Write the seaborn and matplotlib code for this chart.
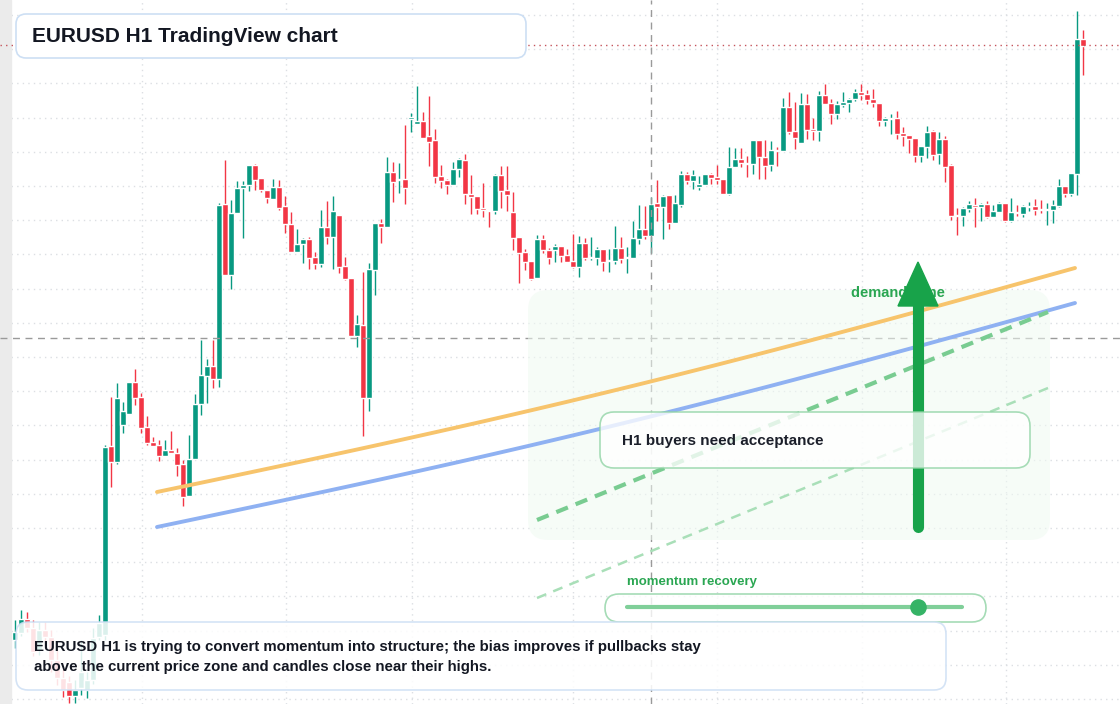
import numpy as np
import pandas as pd
import matplotlib
matplotlib.use('Agg')
import matplotlib.pyplot as plt
import seaborn as sns
from matplotlib.patches import FancyBboxPatch, Polygon

sns.set_style("white")
plt.rcParams['font.family'] = ['Liberation Sans', 'DejaVu Sans']

opens = [640, 633, 619, 628, 650, 630, 637, 660, 678, 682,
         696, 688, 690, 680, 637, 635, 446, 462, 425, 414,
         382, 397, 427, 442, 445, 456, 450, 453, 464, 496,
         459, 404, 376, 366, 379, 204, 275, 213, 188, 185,
         165, 178, 190, 199, 187, 206, 224, 252, 244, 239,
         257, 264, 227, 237, 215, 266, 278, 336, 325, 398,
         270, 223, 227, 172, 180, 179, 119, 124, 121, 136,
         140, 176, 180, 185, 169, 160, 194, 196, 208, 210,
         211, 175, 190, 212, 237, 252, 261, 278, 239, 250,
         250, 246, 255, 261, 267, 243, 258, 258, 249, 261,
         261, 248, 258, 258, 239, 229, 236, 203, 207, 195,
         223, 205, 174, 181, 187, 185, 174, 177, 179, 194,
         167, 159, 163, 164, 140, 157, 165, 150, 151, 107,
         131, 143, 104, 129, 131, 95, 103, 114, 105, 103,
         99, 92, 94, 99, 103, 121, 119, 118, 133, 135,
         138, 156, 147, 131, 154, 139, 165, 215, 216, 209,
         205, 207, 204, 217, 212, 203, 221, 212, 214, 207,
         206, 209, 210, 210, 206, 186, 194, 174, 39]
closes = [632, 619, 628, 652, 630, 637, 660, 678, 690, 696,
          690, 672, 680, 638, 623, 447, 462, 398, 411, 382,
          398, 428, 443, 446, 456, 450, 453, 465, 497, 459,
          404, 375, 366, 379, 205, 275, 213, 188, 185, 165,
          180, 190, 198, 187, 208, 224, 252, 244, 239, 258,
          264, 227, 237, 211, 267, 279, 336, 324, 398, 269,
          223, 227, 172, 182, 179, 188, 117, 121, 138, 142,
          177, 181, 185, 169, 159, 194, 197, 209, 210, 211,
          175, 191, 195, 238, 253, 262, 279, 239, 250, 258,
          246, 256, 262, 267, 243, 258, 257, 249, 262, 260,
          248, 259, 257, 238, 229, 236, 204, 207, 196, 223,
          203, 174, 181, 175, 184, 174, 178, 180, 194, 167,
          159, 163, 164, 140, 157, 166, 150, 151, 107, 132,
          138, 104, 130, 131, 95, 104, 114, 104, 102, 99,
          92, 95, 100, 103, 121, 118, 118, 134, 136, 139,
          156, 146, 132, 155, 139, 167, 216, 216, 208, 204,
          207, 204, 217, 211, 203, 221, 212, 213, 206, 206,
          210, 210, 209, 205, 186, 194, 173, 39, 46]
highs = [620, 610, 612, 620, 622, 622, 630, 650, 668, 676,
         680, 640, 672, 628, 615, 445, 397, 383, 402, 382,
         369, 393, 416, 437, 440, 440, 431, 448, 460, 435,
         394, 340, 359, 340, 203, 160, 200, 181, 181, 165,
         164, 178, 190, 179, 180, 196, 212, 229, 238, 237,
         252, 210, 201, 196, 215, 257, 278, 315, 272, 263,
         223, 219, 157, 162, 163, 125, 113, 86, 112, 96,
         129, 165, 179, 162, 158, 154, 175, 196, 183, 210,
         174, 166, 166, 192, 237, 249, 261, 235, 235, 248,
         244, 246, 249, 234, 236, 238, 237, 247, 249, 249,
         226, 237, 247, 221, 205, 206, 197, 180, 195, 195,
         195, 171, 172, 170, 176, 174, 173, 165, 179, 147,
         148, 148, 156, 140, 140, 140, 141, 147, 98, 92,
         102, 93, 94, 118, 91, 84, 99, 101, 92, 98,
         89, 84, 90, 89, 103, 117, 114, 111, 127, 135,
         138, 146, 126, 130, 132, 136, 164, 208, 207, 201,
         198, 203, 201, 205, 202, 203, 198, 205, 205, 202,
         199, 200, 203, 200, 179, 186, 173, 11, 30]
lows = [648, 636, 632, 656, 655, 645, 672, 685, 697, 703,
        703, 695, 698, 684, 640, 640, 487, 464, 433, 414,
        405, 433, 445, 446, 461, 456, 453, 476, 506, 496,
        459, 415, 403, 388, 387, 275, 289, 213, 238, 191,
        190, 192, 203, 199, 210, 233, 252, 252, 263, 269,
        269, 267, 244, 269, 273, 280, 336, 347, 436, 411,
        295, 243, 227, 202, 193, 204, 132, 124, 138, 166,
        183, 188, 194, 185, 177, 204, 214, 214, 217, 227,
        214, 208, 211, 250, 283, 270, 280, 278, 253, 264,
        262, 262, 262, 268, 277, 260, 260, 265, 271, 272,
        264, 263, 273, 258, 244, 239, 253, 221, 239, 229,
        223, 207, 184, 189, 190, 185, 184, 184, 194, 195,
        167, 167, 177, 174, 179, 179, 171, 166, 151, 134,
        149, 143, 139, 140, 141, 104, 124, 119, 107, 112,
        101, 100, 104, 107, 126, 126, 134, 139, 146, 153,
        162, 162, 158, 160, 164, 182, 220, 235, 226, 212,
        227, 221, 218, 217, 212, 222, 222, 216, 217, 211,
        215, 213, 225, 223, 207, 197, 196, 195, 75]

# convert picture levels to EURUSD prices
base, pip = 1.0820, 0.00004
to_price = lambda v: base + (704 - np.asarray(v, dtype=float)) * pip
df = pd.DataFrame({'open': to_price(opens), 'high': to_price(highs),
                   'low': to_price(lows), 'close': to_price(closes)})
df['idx'] = np.arange(len(df))
df['up'] = df['close'] >= df['open']

up_col, dn_col = '#089981', '#f23645'

fig = plt.figure(figsize=(11.2, 7.04), dpi=100)
ax = fig.add_axes([0, 0, 1, 1])
ax.set_xlim(-2.5, (1120 - 15) / 6)
ax.set_ylim(to_price(704), to_price(0))

# dotted grid
for gy in np.arange(15, 704, 34.2):
    ax.axhline(to_price(gy), color='#dcdfe3', lw=1, ls=(0, (1, 3)), zorder=0)
for gx in [142, 286, 412, 573, 717, 862, 1006]:
    ax.axvline((gx - 15) / 6, color='#dcdfe3', lw=1, ls=(0, (1, 3)), zorder=0)

colors = np.where(df['up'], up_col, dn_col)
ax.vlines(df['idx'], df['low'], df['high'], colors=colors, lw=1, zorder=2)
body_lo = df[['open', 'close']].min(axis=1)
body_h = (df['close'] - df['open']).abs().clip(lower=pip * 1.2)
ax.bar(df['idx'], body_h, bottom=body_lo, width=0.85, color=colors, zorder=3)
for s in ax.spines.values():
    s.set_visible(False)
ax.set_xticks([])
ax.set_yticks([])

# overlay in pixel coordinates for annotations
ov = fig.add_axes([0, 0, 1, 1])
ov.set_xlim(0, 1120)
ov.set_ylim(704, 0)
ov.axis('off')

ov.add_patch(plt.Rectangle((0, 0), 11, 704, color='#ebebeb', zorder=1))
ov.axhline(338, color='#9a9a9a', lw=1, ls=(0, (5, 4)), zorder=1)
ov.axvline(651, color='#9a9a9a', lw=1, ls=(0, (5, 4)), zorder=1)
ov.plot([0, 1120], [45, 45], color='#c4545c', lw=1, ls=(0, (1, 3)), zorder=1)

ov.add_patch(FancyBboxPatch((528, 290), 522, 250, boxstyle='round,pad=0,rounding_size=20',
                            fc='#f0faf2', ec='none', alpha=0.55, zorder=2))
t = np.linspace(0, 1, 50)
ov.plot(157 + 918 * t, 492 - 224 * t + 10 * np.sin(np.pi * t), color='#f7c46c', lw=2.8, zorder=4)
ov.plot(157 + 918 * t, 527 - 224 * t + 10 * np.sin(np.pi * t), color='#8fb1f2', lw=2.8, zorder=4)
ov.plot([537, 1048], [520, 312], color='#79cc91', lw=3, ls=(0, (3, 2)), zorder=4)
ov.plot([537, 1048], [598, 388], color='#a9dfb8', lw=1.8, ls=(0, (4, 3)), zorder=4)

ov.text(851, 293, 'demand zone', color='#2aa652', fontsize=10.5, fontweight='bold',
        va='center', zorder=5)
ov.plot([918, 918], [527, 300], color='#18a34a', lw=8, solid_capstyle='round', zorder=6)
ov.add_patch(Polygon([[898, 306], [938, 306], [918, 262]], closed=True, color='#18a34a', zorder=6))

ov.add_patch(FancyBboxPatch((600, 412), 430, 56, boxstyle='round,pad=0,rounding_size=14',
                            fc='white', ec='#8fd3a4', lw=1.2, alpha=0.78, zorder=7))
ov.text(622, 441, 'H1 buyers need acceptance', color='#1b1f2a', fontsize=11,
        fontweight='bold', va='center', zorder=8)

ov.text(627, 582, 'momentum recovery', color='#2aa652', fontsize=9.5,
        fontweight='bold', va='center', zorder=8)
ov.add_patch(FancyBboxPatch((605, 594), 381, 28, boxstyle='round,pad=0,rounding_size=14',
                            fc='white', ec='#8fd3a4', lw=1.2, alpha=0.8, zorder=7))
ov.plot([627, 962], [607, 607], color='#80cf99', lw=3, zorder=8)
ov.scatter([918], [607], s=120, color='#35b366', zorder=9)

ov.add_patch(FancyBboxPatch((16, 14), 510, 44, boxstyle='round,pad=0,rounding_size=10',
                            fc='white', ec='#cddff4', lw=1.2, zorder=7))
ov.text(32, 36, 'EURUSD H1 TradingView chart', color='#131722', fontsize=15,
        fontweight='bold', va='center', zorder=8)

ov.add_patch(FancyBboxPatch((16, 622), 930, 68, boxstyle='round,pad=0,rounding_size=12',
                            fc='white', ec='#cddff4', lw=1.2, alpha=0.86, zorder=7))
ov.text(34, 647, 'EURUSD H1 is trying to convert momentum into structure; the bias improves if pullbacks stay',
        color='#131722', fontsize=10.8, fontweight='bold', va='center', zorder=8)
ov.text(34, 667, 'above the current price zone and candles close near their highs.',
        color='#131722', fontsize=10.8, fontweight='bold', va='center', zorder=8)

fig.savefig('out.png', dpi=100)
